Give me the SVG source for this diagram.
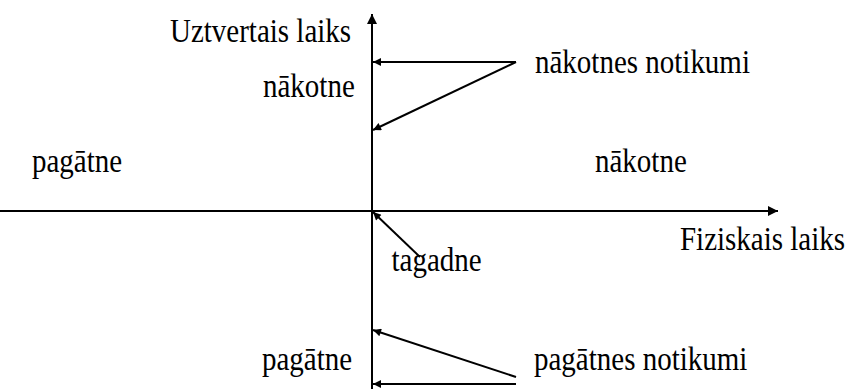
<svg xmlns="http://www.w3.org/2000/svg" width="848" height="389" viewBox="0 0 848 389">
<style>
text{font-family:'Liberation Serif','Times New Roman','DejaVu Serif',serif;font-size:29px;fill:#000}
.ln{stroke:#000;stroke-width:2;fill:none}
</style>
<defs>
<marker id="ah" viewBox="0 0 10 10" refX="10" refY="5" markerWidth="12" markerHeight="8" markerUnits="userSpaceOnUse" orient="auto"><path d="M0,0L10,5L0,10z" fill="#000"/></marker>
<marker id="ab" viewBox="0 0 10 10" refX="10" refY="5" markerWidth="16" markerHeight="10" markerUnits="userSpaceOnUse" orient="auto"><path d="M0,0L10,5L0,10z" fill="#000"/></marker>
</defs>
<g id="connectors">
<line class="ln" x1="372" y1="389" x2="372" y2="14" marker-end="url(#ab)"/>
<line class="ln" x1="0" y1="211" x2="778" y2="211" marker-end="url(#ab)"/>
<line class="ln" x1="516" y1="62" x2="373" y2="62" marker-end="url(#ah)"/>
<line class="ln" x1="516" y1="62" x2="373" y2="130" marker-end="url(#ah)"/>
<line class="ln" x1="420" y1="257" x2="373" y2="212" marker-end="url(#ah)"/>
<line class="ln" x1="516" y1="377" x2="373" y2="330" marker-end="url(#ah)"/>
<line class="ln" x1="516" y1="384" x2="373" y2="384" marker-end="url(#ah)"/>
</g>
<g id="uztvertais"><text font-family="Liberation Serif, serif" transform="translate(170,41.5) scale(1,1.18)">Uztvertais laiks</text></g>
<g id="nakotne-v"><text font-family="Liberation Serif, serif" transform="translate(263,97) scale(1,1.18)">nākotne</text></g>
<g id="nakotnes-notikumi"><text font-family="Liberation Serif, serif" transform="translate(535,73) scale(1,1.18)">nākotnes notikumi</text></g>
<g id="pagatne-h"><text font-family="Liberation Serif, serif" transform="translate(32,171.5) scale(1,1.18)">pagātne</text></g>
<g id="nakotne-h"><text font-family="Liberation Serif, serif" transform="translate(595,171.5) scale(1,1.18)">nākotne</text></g>
<g id="fiziskais"><text font-family="Liberation Serif, serif" transform="translate(680,250) scale(1,1.18)">Fiziskais laiks</text></g>
<g id="tagadne"><text font-family="Liberation Serif, serif" transform="translate(391.5,271) scale(1,1.18)">tagadne</text></g>
<g id="pagatne-v"><text font-family="Liberation Serif, serif" transform="translate(262,370) scale(1,1.18)">pagātne</text></g>
<g id="pagatnes-notikumi"><text font-family="Liberation Serif, serif" transform="translate(534,370) scale(1,1.18)">pagātnes notikumi</text></g>
</svg>
